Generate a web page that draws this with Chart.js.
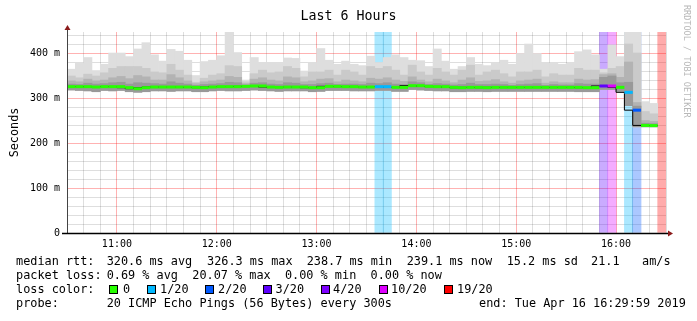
<!DOCTYPE html>
<html>
<head>
<meta charset="utf-8">
<script src="https://cdn.jsdelivr.net/npm/chart.js@4.4.0/dist/chart.umd.min.js"></script>
<style>
  body { margin: 0; background: #fff; }
  #wrap { position: relative; width: 697px; height: 321px; font-family: "DejaVu Sans Mono", monospace; color: #000; }
  #wrap canvas { position: absolute; left: 0; top: 0; }
  .t { position: absolute; white-space: pre; font-size: 11.85px; line-height: 14px; }
  .title { position: absolute; left: 0; width: 697px; top: 7px; text-align: center; font-size: 13.3px; line-height: 18px; }
  .mark { position: absolute; left: 682px; top: 5px; writing-mode: vertical-rl; font-size: 8.5px; color: #b8b8b8; white-space: pre; }
  .box { position: absolute; width: 7px; height: 7px; border: 1px solid #000; top: 285px; }
</style>
</head>
<body>
<div id="wrap">
  <canvas id="myChart" width="697" height="321"></canvas>
  <div class="title">Last 6 Hours</div>
  <div class="mark">RRDTOOL / TOBI OETIKER</div>

  <div class="t" style="left:16px;top:254px">median rtt:</div>
  <div class="t" style="left:106.7px;top:254px">320.6 ms avg</div>
  <div class="t" style="left:207px;top:254px">326.3 ms max</div>
  <div class="t" style="left:306.7px;top:254px">238.7 ms min</div>
  <div class="t" style="left:406.7px;top:254px">239.1 ms now</div>
  <div class="t" style="left:506.7px;top:254px">15.2 ms sd</div>
  <div class="t" style="left:591px;top:254px">21.1</div>
  <div class="t" style="left:642px;top:254px">am/s</div>

  <div class="t" style="left:16px;top:268px">packet loss:</div>
  <div class="t" style="left:106.7px;top:268px">0.69 % avg  20.07 % max  0.00 % min  0.00 % now</div>

  <div class="t" style="left:16px;top:282px">loss color:</div>
  <div id="lossLegend"></div>

  <div class="t" style="left:16px;top:296px">probe:</div>
  <div class="t" style="left:106.7px;top:296px">20 ICMP Echo Pings (56 Bytes) every 300s</div>
  <div class="t" style="left:479px;top:296px">end: Tue Apr 16 16:29:59 2019</div>
</div>
<script>
// one slot every 5 minutes, 10:30 -> 16:30 (x in minutes after 10:30)
var STEP = 5;
var START_M = 30;
var SPAN = 360;
var Y_MAX = 446.7;

var hourLabels = ['11:00', '12:00', '13:00', '14:00', '15:00', '16:00'];

// median rtt per slot (ms)
var medianRtt = [
  325.2, 325.2, 325.2, 324.4, 325.2, 325.2, 325.2, 323.0, 320.7, 323.0, 324.4, 324.4,
  324.4, 324.4, 324.4, 323.7, 323.0, 324.4, 325.2, 325.2, 325.2, 325.9, 326.7, 326.7,
  324.4, 323.7, 324.4, 324.4, 324.4, 323.0, 323.0, 325.9, 325.9, 325.2, 325.2, 324.4,
  324.4, 325.2, 325.2, 323.7, 323.7, 327.4, 327.4, 325.9, 325.2, 325.2, 323.7, 323.0,
  323.7, 323.7, 323.0, 323.7, 323.7, 323.7, 323.7, 323.7, 323.7, 323.7, 323.7, 323.7,
  323.7, 323.7, 323.0, 323.0, 326.7, 326.7, 323.7, 312.6, 273.0, 239.1, 238.7, null
];
// smoke: slowest ping, upper band, inner band, core band, fastest ping (ms)
var pingMax = [
  364, 377, 390, 361, 375, 400, 400, 392, 409, 423, 396, 382,
  408, 404, 384, 350, 381, 384, 394, 446, 401, 340, 390, 379,
  379, 377, 389, 388, 360, 379, 410, 384, 375, 382, 375, 372,
  393, 379, 390, 396, 390, 384, 383, 370, 409, 382, 364, 370,
  390, 375, 372, 377, 384, 375, 399, 420, 399, 378, 377, 375,
  377, 403, 407, 396, 364, 418, 392, 446, 446, 292, 288, null
];
var pingUpper = [
  349, 345, 353, 349, 356, 366, 370, 370, 370, 366, 358, 356,
  375, 362, 351, 335, 344, 351, 354, 372, 370, 336, 354, 362,
  356, 358, 370, 366, 347, 358, 358, 362, 351, 362, 358, 351,
  370, 366, 370, 362, 351, 373, 358, 351, 366, 358, 351, 362,
  373, 351, 358, 362, 354, 347, 358, 358, 362, 347, 354, 351,
  351, 366, 362, 362, 356, 366, 370, 420, 400, 270, 265, null
];
var pingInner = [
  338, 336, 342, 338, 340, 345, 348, 343, 350, 347, 340, 340,
  352, 345, 338, 332, 336, 338, 340, 348, 346, 332, 342, 345,
  340, 338, 347, 345, 336, 338, 342, 343, 336, 340, 338, 336,
  344, 342, 345, 340, 337, 347, 340, 336, 342, 338, 334, 340,
  345, 337, 338, 341, 336, 333, 338, 340, 342, 333, 336, 334,
  334, 342, 340, 341, 352, 354, 346, 380, 290, 250, 248, null
];
var pingCore = [
  331, 330, 333, 331, 332, 334, 335, 331, 334, 333, 332, 331,
  336, 333, 331, 328, 330, 331, 332, 335, 334, 329, 333, 334,
  331, 330, 334, 333, 330, 330, 332, 333, 330, 331, 331, 330,
  333, 332, 334, 331, 330, 336, 334, 330, 332, 331, 329, 330,
  333, 330, 330, 331, 330, 328, 330, 331, 332, 328, 330, 329,
  329, 332, 331, 331, 346, 349, 334, 335, 282, 244, 243, null
];
var pingMin = [
  318, 317, 316, 314, 317, 316, 317, 314, 313, 314, 316, 316,
  315, 316, 316, 314, 314, 316, 317, 316, 316, 317, 318, 317,
  316, 315, 316, 316, 316, 314, 315, 317, 317, 317, 316, 316,
  316, 317, 317, 315, 315, 319, 318, 317, 316, 316, 314, 314,
  315, 315, 314, 315, 315, 315, 315, 315, 315, 315, 315, 315,
  315, 314, 314, 314, 319, 319, 315, 283, 236, 236, 236, null
];
// lost pings out of 20 per slot
var lossCount = [
  0, 0, 0, 0, 0, 0, 0, 0, 0, 0, 0, 0,
  0, 0, 0, 0, 0, 0, 0, 0, 0, 0, 0, 0,
  0, 0, 0, 0, 0, 0, 0, 0, 0, 0, 0, 0,
  0, 1, 1, 0, 0, 0, 0, 0, 0, 0, 0, 0,
  0, 0, 0, 0, 0, 0, 0, 0, 0, 0, 0, 0,
  0, 0, 0, 0, 3, 10, 0, 1, 2, 0, 0, 19
];
var lossLevels = [0, 1, 2, 3, 4, 10, 19];
var lossNames = ['0', '1/20', '2/20', '3/20', '4/20', '10/20', '19/20'];
var lossHex = ['#26ff00', '#00b8ff', '#0059ff', '#5e00ff', '#7e00ff', '#dd00ff', '#ff0000'];

function lossColor(n) {
  var c = lossHex[0];
  for (var i = 0; i < lossLevels.length; i++) if (n >= lossLevels[i]) c = lossHex[i];
  return c;
}
function fade(hex, a) {
  var r = parseInt(hex.substr(1, 2), 16), g = parseInt(hex.substr(3, 2), 16), b = parseInt(hex.substr(5, 2), 16);
  return 'rgba(' + r + ',' + g + ',' + b + ',' + a + ')';
}

// legend boxes
var legendX = [109, 147, 205, 263, 321, 379, 444];
var legendTextX = [123, 160, 218, 275.6, 333, 391, 457];
var leg = document.getElementById('lossLegend');
lossNames.forEach(function (name, i) {
  var b = document.createElement('div');
  b.className = 'box';
  b.style.left = legendX[i] + 'px';
  b.style.background = lossHex[i];
  leg.appendChild(b);
  var t = document.createElement('div');
  t.className = 't';
  t.style.left = legendTextX[i] + 'px';
  t.style.top = '282px';
  t.textContent = name;
  leg.appendChild(t);
});

// floating bars centred on each 5 minute slot
function slotBars(lo, hi) {
  var out = [];
  lo.forEach(function (v, i) {
    if (v !== null) out.push({ x: i * STEP + STEP / 2, y: [v, hi[i]] });
  });
  return out;
}

// median: thin black steps, coloured segment per slot on top
var stepPts = [];
var segPts = [];
medianRtt.forEach(function (m, i) {
  if (m === null) return;
  stepPts.push({ x: i * STEP, y: m });
  segPts.push({ x: i * STEP, y: m, c: lossColor(lossCount[i]) });
  segPts.push({ x: (i + 1) * STEP, y: m, c: lossColor(lossCount[i]) });
  segPts.push({ x: (i + 1) * STEP, y: null });
  if (i + 1 >= medianRtt.length || medianRtt[i + 1] === null) stepPts.push({ x: (i + 1) * STEP, y: m });
});

var bandData = [];
var bandColors = [];
lossCount.forEach(function (n, i) {
  if (n > 0) {
    bandData.push({ x: i * STEP + STEP / 2, y: [0, Y_MAX] });
    bandColors.push(fade(lossColor(n), 0.33));
  }
});

var axisArrows = {
  id: 'axisArrows',
  afterDraw: function (chart) {
    var ctx = chart.ctx, a = chart.chartArea;
    ctx.save();
    ctx.strokeStyle = '#444';
    ctx.lineWidth = 1;
    ctx.beginPath();
    ctx.moveTo(a.left + 0.5, a.bottom);
    ctx.lineTo(a.left + 0.5, a.top - 3);
    ctx.stroke();
    ctx.strokeStyle = '#000';
    ctx.lineWidth = 1.5;
    ctx.beginPath();
    ctx.moveTo(a.left - 5, a.bottom + 0.5);
    ctx.lineTo(a.right + 3, a.bottom + 0.5);
    ctx.stroke();
    ctx.fillStyle = '#8b1a1a';
    ctx.beginPath();
    ctx.moveTo(a.left + 0.5, a.top - 7);
    ctx.lineTo(a.left - 2.5, a.top - 2);
    ctx.lineTo(a.left + 3.5, a.top - 2);
    ctx.fill();
    ctx.beginPath();
    ctx.moveTo(a.right + 7, a.bottom + 0.5);
    ctx.lineTo(a.right + 2, a.bottom - 2.5);
    ctx.lineTo(a.right + 2, a.bottom + 3.5);
    ctx.fill();
    ctx.restore();
  }
};

Chart.defaults.font.family = '"DejaVu Sans Mono", monospace';
Chart.defaults.color = '#000';

var barBase = { grouped: false, barPercentage: 1, categoryPercentage: 1, borderWidth: 0 };

new Chart(document.getElementById('myChart').getContext('2d'), {
  type: 'bar',
  data: {
    datasets: [
      { type: 'line', data: segPts, order: 0, borderWidth: 3, pointRadius: 0,
        spanGaps: false, borderCapStyle: 'butt',
        segment: { borderColor: function (c) { return segPts[c.p0DataIndex].c; } } },
      { type: 'line', data: stepPts, order: 1, borderWidth: 1, pointRadius: 0,
        stepped: 'after', borderColor: '#000' },
      Object.assign({ data: slotBars(pingMin, pingCore), backgroundColor: '#999999', order: 2 }, barBase),
      Object.assign({ data: slotBars(pingMin, pingInner), backgroundColor: '#b3b3b3', order: 3 }, barBase),
      Object.assign({ data: slotBars(pingMin, pingUpper), backgroundColor: '#cacaca', order: 4 }, barBase),
      Object.assign({ data: slotBars(pingMin, pingMax), backgroundColor: '#dedede', order: 5 }, barBase),
      Object.assign({ data: bandData, backgroundColor: bandColors, order: 6 }, barBase)
    ]
  },
  options: {
    responsive: false,
    animation: false,
    layout: { padding: { top: 32, right: 31, left: 0, bottom: 0 } },
    plugins: { legend: { display: false }, tooltip: { enabled: false }, title: { display: false } },
    scales: {
      x: {
        type: 'linear', position: 'bottom', min: 0, max: SPAN, offset: false,
        afterFit: function (s) { s.height = 88; },
        border: { display: false },
        grid: {
          offset: false,
          drawTicks: false,
          color: function (c) {
            return c.tick && (c.tick.value + START_M) % 60 === 0 ? 'rgba(255,0,0,0.3)' : 'rgba(0,0,0,0.13)';
          }
        },
        ticks: {
          stepSize: 10, autoSkip: false, maxRotation: 0, padding: 5,
          font: { size: 10 },
          callback: function (v) {
            if ((v + START_M) % 60 !== 0) return '';
            return hourLabels[(v + START_M) / 60 - 1] || '';
          }
        }
      },
      y: {
        min: 0, max: Y_MAX,
        afterFit: function (s) { s.width = 67; },
        border: { display: false },
        title: { display: true, text: 'Seconds', font: { size: 11.8 }, padding: { top: 8, bottom: 0 } },
        grid: {
          drawTicks: false,
          color: function (c) {
            return c.tick && c.tick.value % 100 === 0 ? 'rgba(255,0,0,0.3)' : 'rgba(0,0,0,0.13)';
          }
        },
        ticks: {
          stepSize: 20, autoSkip: false, includeBounds: false, padding: 7,
          font: { size: 10 },
          callback: function (v) {
            if (v % 100 !== 0) return '';
            return v === 0 ? '0' : v + ' m';
          }
        }
      }
    }
  },
  plugins: [axisArrows]
});
</script>
</body>
</html>
